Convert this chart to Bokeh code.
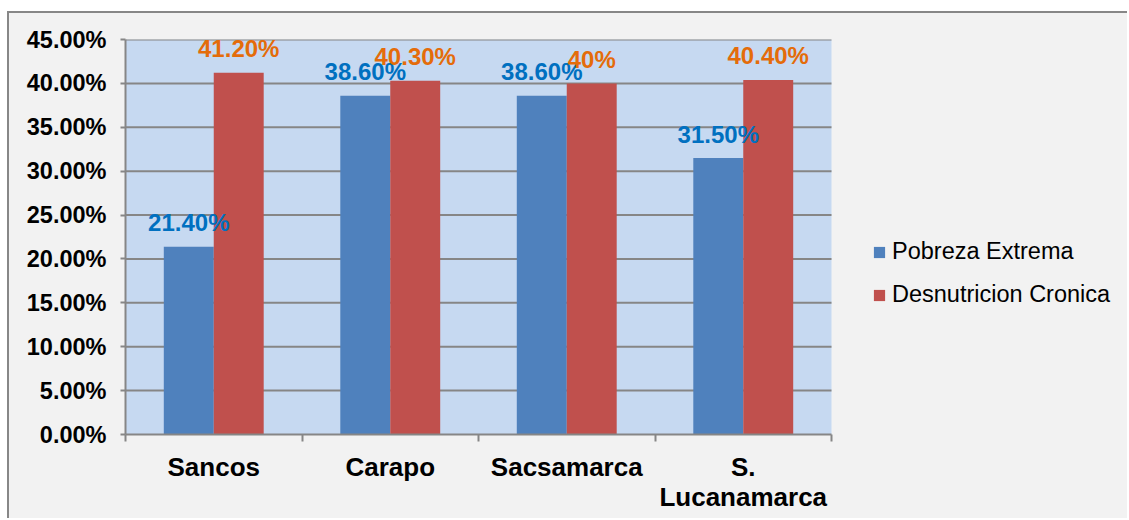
from bokeh.plotting import figure
from bokeh.models import Range1d, FixedTicker, PrintfTickFormatter, Legend, LegendItem, ColumnDataSource
from bokeh.core.properties import value
from bokeh.embed import file_html
from bokeh.resources import INLINE

categories = ["Sancos", "Carapo", "Sacsamarca", "S.\nLucanamarca"]
pobreza = [21.4, 38.6, 38.6, 31.5]
desnutricion = [41.2, 40.3, 40.0, 40.4]
pobreza_labels = ["21.40%", "38.60%", "38.60%", "31.50%"]
desnutricion_labels = ["41.20%", "40.30%", "40%", "40.40%"]
y_ticks = [0, 5, 10, 15, 20, 25, 30, 35, 40, 45]

FONT = "Liberation Sans"
GRID = "#868686"
BG = "#F2F2F2"
BW = 0.283

# layout (pixels)
W, H = 1120, 507
LEFT, TOP, BOTTOM = 116, 26, 86
PLOT_PX = 706            # width of the blue plotting area
n = len(categories)
frame_px = W - LEFT
x_end = n * frame_px / PLOT_PX

centers = [i + 0.5 for i in range(n)]
src_p = ColumnDataSource(dict(x=[c - BW / 2 for c in centers], top=pobreza, lab=pobreza_labels))
src_d = ColumnDataSource(dict(x=[c + BW / 2 for c in centers], top=desnutricion, lab=desnutricion_labels))

p = figure(width=W, height=H, output_backend="svg", toolbar_location=None,
           x_range=Range1d(0, x_end), y_range=Range1d(0, y_ticks[-1]),
           min_border_left=LEFT, min_border_right=0, min_border_top=TOP, min_border_bottom=BOTTOM)
p.styles = {"margin-left": "7px", "margin-top": "11px", "background-color": BG,
            "border-left": "2px solid #878787", "border-top": "2px solid #878787"}
p.border_fill_color = BG
p.background_fill_color = BG
p.outline_line_color = None

# plot area background and gridlines limited to the category span
p.quad(left=0, right=n, bottom=0, top=y_ticks[-1], fill_color="#C6D9F1", line_color=None)
p.segment(x0=[0] * len(y_ticks[1:]), x1=[n] * len(y_ticks[1:]), y0=y_ticks[1:], y1=y_ticks[1:],
          line_color=GRID, line_width=2)

r1 = p.vbar(x="x", top="top", width=BW, source=src_p, fill_color="#4F81BD", line_color=None)
r2 = p.vbar(x="x", top="top", width=BW, source=src_d, fill_color="#C0504D", line_color=None)

p.text(x="x", y="top", text="lab", source=src_p, text_align="center", text_baseline="alphabetic",
       y_offset=-24, text_font=value(FONT), text_font_style="bold", text_font_size="24px",
       text_color="#0070C0")
p.text(x="x", y="top", text="lab", source=src_d, text_align="center", text_baseline="alphabetic",
       y_offset=-24, text_font=value(FONT), text_font_style="bold", text_font_size="24px",
       text_color="#E46C0A")

# x axis
xa = p.xaxis[0]
xa.bounds = (0, n)
xa.ticker = FixedTicker(ticks=centers, minor_ticks=list(range(n + 1)))
xa.major_label_overrides = {c: lab for c, lab in zip(centers, categories)}
xa.major_tick_out = 0
xa.major_tick_in = 0
xa.minor_tick_out = 7
xa.minor_tick_in = 0
xa.minor_tick_line_color = GRID
xa.minor_tick_line_width = 2
xa.axis_line_color = GRID
xa.axis_line_width = 2
xa.major_label_text_font = FONT
xa.major_label_text_font_style = "bold"
xa.major_label_text_font_size = "26px"
xa.major_label_text_line_height = 1.0
xa.major_label_text_color = "black"
xa.major_label_standoff = 10

ya = p.yaxis[0]
ya.ticker = FixedTicker(ticks=y_ticks)
ya.formatter = PrintfTickFormatter(format="%.2f%%")
ya.major_tick_out = 5
ya.major_tick_in = 0
ya.minor_tick_line_color = None
ya.major_tick_line_color = GRID
ya.major_tick_line_width = 2
ya.axis_line_color = GRID
ya.axis_line_width = 2
ya.major_label_text_font = FONT
ya.major_label_text_font_style = "bold"
ya.major_label_text_font_size = "23.5px"
ya.major_label_text_color = "black"
ya.major_label_standoff = 14

p.xgrid.grid_line_color = None
p.ygrid.grid_line_color = None

legend = Legend(items=[LegendItem(label="Pobreza Extrema", renderers=[r1]),
                       LegendItem(label="Desnutricion Cronica", renderers=[r2])],
                location=(747, 126), padding=0, margin=0, spacing=16,
                glyph_width=14, glyph_height=14, label_standoff=6,
                label_text_font=FONT, label_text_font_size="23.5px", label_text_color="black",
                background_fill_alpha=0, border_line_color=None)
p.add_layout(legend)

open("out.html", "w").write(file_html(p, INLINE))
